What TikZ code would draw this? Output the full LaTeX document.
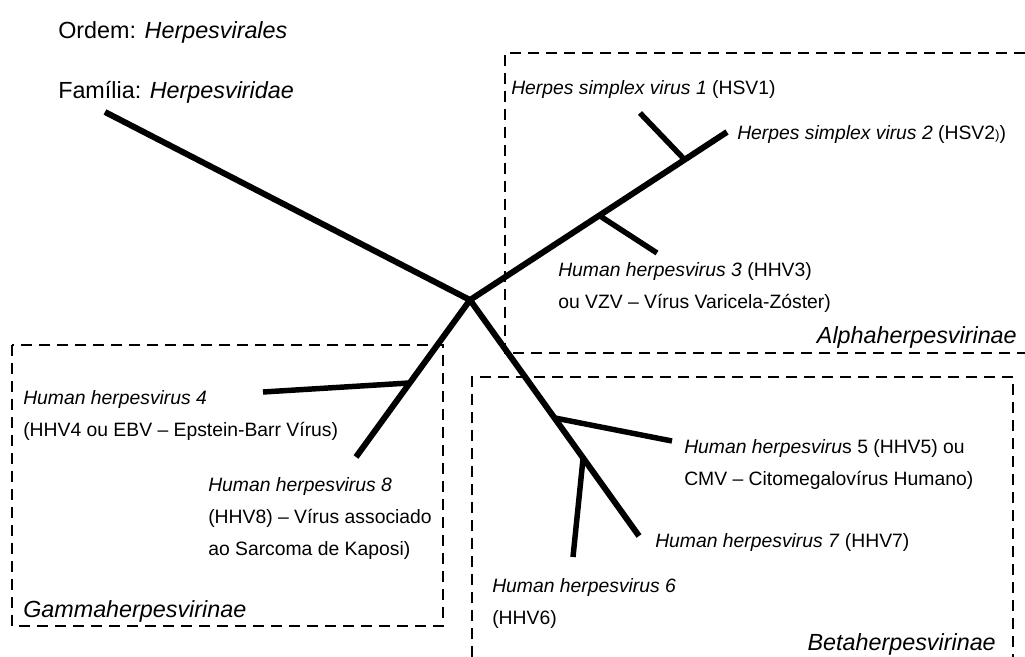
\documentclass[tikz,border=0pt]{standalone}
\usepackage{fontspec}
\setmainfont{Liberation Sans}
\usetikzlibrary{positioning}

\begin{document}
\begin{tikzpicture}[x=0.75pt, y=-0.75pt,
                    lbl/.style={anchor=base west, inner sep=0pt, align=left, font=\fontsize{14.5}{24}\selectfont},
                    ttl/.style={anchor=base west, inner sep=0pt, font=\fontsize{17.5}{21}\selectfont},
                    branch/.style={line width=4.5pt},
                    stub/.style={line width=4.1pt},
                    grp/.style={line width=1.8pt, dash pattern=on 8pt off 5.5pt}]
    \useasboundingbox (0,0) rectangle (1025,657);

    % Taxonomy header
    \node[ttl] (ordem) at (58,38) {Ordem: \textit{Herpesvirales}};
    \node[ttl] (familia) at (58,98) {Família: \textit{Herpesviridae}};

    % Branch points and tips
    \coordinate (root) at (470,300);
    \coordinate (famtip) at (105,112);
    \coordinate (a3) at (600,216);
    \coordinate (a12) at (684,159);
    \coordinate (hsv2) at (727,132);
    \coordinate (hsv1) at (640,113);
    \coordinate (hhv3) at (657,253);
    \coordinate (g4) at (409,383);
    \coordinate (hhv8) at (356,457);
    \coordinate (hhv4) at (263,392);
    \coordinate (b5) at (555,418);
    \coordinate (b6) at (583,459);
    \coordinate (hhv7) at (639,536);
    \coordinate (hhv5) at (672,441);
    \coordinate (hhv6) at (573,557);

    % Tree
    \draw[branch] (famtip) -- (root);
    \draw[branch] (root) -- (hsv2);
    \draw[branch] (root) -- (hhv8);
    \draw[branch] (root) -- (hhv7);
    \draw[stub] (a12) -- (hsv1);
    \draw[stub] (a3) -- (hhv3);
    \draw[stub] (g4) -- (hhv4);
    \draw[stub] (b5) -- (hhv5);
    \draw[stub] (b6) -- (hhv6);

    % Subfamily boxes
    \draw[grp] (1025,53) -| (505,353) -- (1025,353);
    \draw[grp] (12,345) rectangle (443,626);
    \draw[grp] (472,657) |- (1013,377) -- (1013,657);

    % Alphaherpesvirinae
    \node[lbl] (lhsv1) at (511,94) {\textit{Herpes simplex virus 1} (HSV1)};
    \node[lbl] (lhsv2) at (737,139) {\textit{Herpes simplex virus 2} (HSV2{\fontsize{10}{12}\selectfont)})};
    \node[lbl] (lhhv3) at (558,308) {\textit{Human herpesvirus 3} (HHV3)\\ou VZV – Vírus Varicela-Zóster)};
    \node[ttl, anchor=base east] (alpha) at (1017,343) {\textit{Alphaherpesvirinae}};

    % Gammaherpesvirinae
    \node[lbl] (lhhv4) at (23,436) {\textit{Human herpesvirus 4}\\(HHV4 ou EBV – Epstein-Barr Vírus)};
    \node[lbl] (lhhv8) at (208,555) {\textit{Human herpesvirus 8}\\(HHV8) – Vírus associado\\ao Sarcoma de Kaposi)};
    \node[ttl] (gamma) at (23,617) {\textit{Gammaherpesvirinae}};

    % Betaherpesvirinae
    \node[lbl] (lhhv5) at (684,485) {\textit{Human herpesviru}s 5 (HHV5) ou\\CMV – Citomegalovírus Humano)};
    \node[lbl] (lhhv7) at (655,547) {\textit{Human herpesvirus 7} (HHV7)};
    \node[lbl] (lhhv6) at (492,624) {\textit{Human herpesvirus 6}\\(HHV6)};
    \node[ttl, anchor=base east] (beta) at (996,650) {\textit{Betaherpesvirinae}};
\end{tikzpicture}
\end{document}
